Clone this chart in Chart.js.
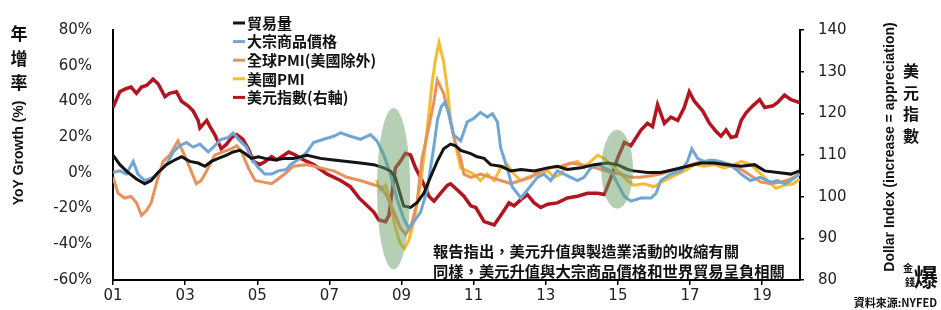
<!DOCTYPE html>
<html>
<head>
<meta charset="utf-8">
<script src="https://cdn.jsdelivr.net/npm/chart.js@4.4.1/dist/chart.umd.min.js"></script>
<style>
  html, body { margin: 0; padding: 0; background: #fff; }
</style>
</head>
<body>
<canvas id="chart" width="941" height="310"></canvas>
<script>
// x 軸刻度（年份）
const xTickYears = [2001, 2003, 2005, 2007, 2009, 2011, 2013, 2015, 2017, 2019];

const seriesNames = ['貿易量', '大宗商品價格', '全球PMI(美國除外)', '美國PMI', '美元指數(右軸)'];

// [年份, 年增率 %]
const tradeVolume = [
  [2001.0, 9.9], [2001.19, 4.6], [2001.42, 0.2], [2001.65, -3.4], [2001.88, -6.1], [2002.06, -4.3],
  [2002.25, 0.2], [2002.48, 4.6], [2002.71, 7.2], [2002.9, 9.0], [2003.13, 6.4], [2003.36, 5.5],
  [2003.55, 3.7], [2003.73, 6.4], [2003.92, 8.1], [2004.15, 9.9], [2004.33, 11.7], [2004.52, 12.6],
  [2004.66, 10.8], [2004.84, 8.1], [2005.03, 9.0], [2005.21, 8.1], [2005.49, 7.2], [2005.77, 8.1],
  [2006.0, 8.1], [2006.38, 9.9], [2006.75, 8.1], [2007.12, 7.2], [2007.49, 6.4], [2007.86, 5.5],
  [2008.23, 4.6], [2008.51, 2.8], [2008.69, 1.1], [2008.83, -2.5], [2008.93, -9.6], [2009.06, -18.5],
  [2009.25, -19.4], [2009.43, -16.7], [2009.62, -11.4], [2009.8, -2.5], [2009.99, 6.4], [2010.17, 13.5],
  [2010.36, 16.1], [2010.5, 15.2], [2010.64, 12.6], [2010.92, 10.8], [2011.1, 9.0], [2011.29, 8.1],
  [2011.47, 4.6], [2011.75, 3.7], [2012.03, 1.1], [2012.31, 1.9], [2012.68, 1.1], [2013.05, 2.8],
  [2013.32, 3.7], [2013.6, 1.9], [2013.97, 2.8], [2014.34, 4.6], [2014.71, 5.5], [2014.99, 4.6],
  [2015.27, 1.9], [2015.44, 1.1], [2015.82, 0.2], [2016.19, 0.2], [2016.56, 1.9], [2016.93, 3.7],
  [2017.3, 5.5], [2017.67, 5.5], [2018.04, 4.6], [2018.42, 3.7], [2018.79, 4.6], [2019.07, 1.1],
  [2019.43, 0.2], [2019.8, -0.7], [2020.04, 1.1]
];

const commodityPrices = [
  [2001.0, 0.2], [2001.19, 1.1], [2001.37, -0.7], [2001.56, 6.4], [2001.69, -0.7], [2001.88, -4.3],
  [2002.11, -2.5], [2002.3, 1.1], [2002.48, 4.6], [2002.67, 11.7], [2002.85, 15.2], [2003.04, 17.0],
  [2003.22, 14.4], [2003.41, 16.1], [2003.64, 11.7], [2003.82, 15.2], [2004.0, 18.8], [2004.19, 19.7],
  [2004.33, 22.4], [2004.52, 17.9], [2004.7, 14.4], [2004.84, 8.1], [2005.03, 2.8], [2005.21, -0.7],
  [2005.4, -0.7], [2005.58, 1.1], [2005.81, 1.9], [2005.92, 4.6], [2006.19, 8.1], [2006.38, 11.7],
  [2006.56, 17.0], [2006.84, 18.8], [2007.12, 20.5], [2007.31, 22.4], [2007.58, 20.5], [2007.86, 18.8],
  [2008.14, 21.4], [2008.32, 17.9], [2008.51, 9.9], [2008.69, -0.7], [2008.88, -14.9], [2009.06, -25.6],
  [2009.2, -30.9], [2009.34, -27.4], [2009.53, -22.0], [2009.71, -9.6], [2009.9, 15.2], [2010.0, 30.0],
  [2010.1, 37.0], [2010.2, 39.5], [2010.31, 33.9], [2010.44, 21.4], [2010.64, 17.9], [2010.82, 28.5],
  [2011.0, 30.5], [2011.19, 33.9], [2011.38, 31.2], [2011.52, 33.2], [2011.66, 28.5], [2011.75, 14.0],
  [2011.93, 2.8], [2012.07, -7.8], [2012.31, -14.1], [2012.49, -9.6], [2012.77, -2.5], [2012.95, -0.7],
  [2013.14, -4.3], [2013.32, 1.1], [2013.51, -0.7], [2013.69, -2.5], [2013.88, -4.3], [2014.06, -2.5],
  [2014.25, 2.8], [2014.44, 4.6], [2014.62, 2.8], [2014.81, 1.1], [2014.99, -6.1], [2015.18, -13.2],
  [2015.36, -15.8], [2015.64, -14.1], [2015.92, -14.1], [2016.06, -11.4], [2016.19, -4.3], [2016.47, -0.7],
  [2016.75, 1.1], [2016.93, 6.4], [2017.05, 13.5], [2017.21, 8.1], [2017.38, 6.4], [2017.61, 7.2],
  [2017.84, 6.4], [2018.12, 4.6], [2018.42, -0.7], [2018.67, -4.3], [2018.95, -2.5], [2019.23, -5.2],
  [2019.43, -4.3], [2019.62, -6.1], [2019.8, -4.3], [2020.04, -0.7]
];

const globalPmiExUs = [
  [2001.0, -2.5], [2001.14, -11.4], [2001.32, -14.1], [2001.5, -13.2], [2001.65, -16.7], [2001.79, -23.8],
  [2001.93, -21.1], [2002.06, -16.7], [2002.2, -6.1], [2002.39, 6.4], [2002.57, 9.9], [2002.8, 17.9],
  [2002.94, 11.7], [2003.13, 2.8], [2003.31, -6.1], [2003.45, -4.3], [2003.64, 2.8], [2003.82, 9.9],
  [2004.05, 11.7], [2004.29, 13.5], [2004.43, 15.2], [2004.57, 11.7], [2004.75, 2.8], [2004.94, -4.3],
  [2005.17, -5.2], [2005.4, -6.1], [2005.58, -3.4], [2005.81, 0.2], [2006.0, 3.7], [2006.38, 4.6],
  [2006.75, 2.8], [2007.12, 1.1], [2007.49, -2.5], [2007.86, -4.3], [2008.14, -6.1], [2008.42, -7.8],
  [2008.6, -13.2], [2008.83, -23.8], [2008.97, -30.9], [2009.11, -34.4], [2009.25, -30.9], [2009.43, -16.7],
  [2009.57, 8.1], [2009.76, 25.9], [2009.9, 40.1], [2009.99, 52.0], [2010.17, 44.5], [2010.36, 28.5],
  [2010.5, 16.1], [2010.64, 8.1], [2010.73, -0.7], [2010.92, -2.5], [2011.19, -0.7], [2011.47, -2.5],
  [2011.75, -4.3], [2012.03, -6.1], [2012.31, -4.3], [2012.58, -2.5], [2012.86, 1.1], [2013.14, 2.8],
  [2013.42, 3.7], [2013.69, 5.5], [2013.97, 4.6], [2014.25, 3.7], [2014.53, 1.9], [2014.81, 0.2],
  [2015.08, -0.7], [2015.36, -2.5], [2015.64, -2.5], [2015.92, -1.6], [2016.19, -0.7], [2016.47, 1.1],
  [2016.75, 2.8], [2017.03, 4.6], [2017.3, 6.4], [2017.58, 5.5], [2017.86, 4.6], [2018.14, 3.7],
  [2018.42, 1.9], [2018.69, -1.6], [2018.97, -5.2], [2019.25, -6.1], [2019.52, -5.2], [2019.8, -3.4],
  [2020.04, -0.7]
];

const usPmi = [
  [2008.3, -4.0], [2008.42, -9.6], [2008.56, -6.9], [2008.69, -16.7], [2008.83, -30.9], [2008.97, -39.8],
  [2009.08, -42.4], [2009.2, -38.0], [2009.34, -27.4], [2009.53, -6.1], [2009.71, 24.1], [2009.85, 50.7],
  [2009.94, 63.1], [2010.04, 72.9], [2010.17, 62.0], [2010.27, 47.2], [2010.36, 29.4], [2010.5, 15.2],
  [2010.64, 2.8], [2010.82, 1.1], [2011.0, -0.7], [2011.19, -4.3], [2011.38, -0.7], [2011.57, -4.3],
  [2011.75, 2.8], [2011.93, 4.6], [2012.12, -0.7], [2012.31, -4.3], [2012.49, -2.5], [2012.77, -0.7],
  [2013.05, 1.1], [2013.23, -2.5], [2013.42, -0.7], [2013.6, 4.6], [2013.88, 6.4], [2014.06, 2.8],
  [2014.25, 6.4], [2014.44, 9.9], [2014.62, 8.1], [2014.81, 4.6], [2014.99, 1.1], [2015.18, -2.5],
  [2015.27, -4.3], [2015.44, -6.9], [2015.72, -6.1], [2016.0, -7.8], [2016.29, -4.3], [2016.56, -1.6],
  [2016.84, 1.1], [2017.12, 4.6], [2017.4, 3.7], [2017.67, 4.6], [2017.95, 2.8], [2018.23, 4.6],
  [2018.42, 6.4], [2018.69, 4.6], [2018.88, 1.1], [2019.15, -4.3], [2019.38, -8.7], [2019.62, -6.9],
  [2019.87, -6.1], [2020.04, -3.4]
];

// [年份, 美元指數]（右軸）
const dollarIndex = [
  [2001.0, 121.4], [2001.19, 125.2], [2001.36, 125.9], [2001.5, 126.3], [2001.65, 124.8], [2001.79, 126.3],
  [2001.93, 126.7], [2002.11, 128.2], [2002.25, 127.1], [2002.44, 124.0], [2002.57, 124.8], [2002.76, 125.2],
  [2002.9, 122.9], [2003.08, 121.8], [2003.22, 120.6], [2003.36, 118.3], [2003.41, 116.5], [2003.6, 118.3],
  [2003.69, 116.8], [2003.82, 114.9], [2004.0, 111.5], [2004.15, 112.6], [2004.29, 114.2], [2004.43, 114.9],
  [2004.6, 113.8], [2004.75, 111.5], [2004.89, 108.5], [2005.07, 107.7], [2005.21, 108.4], [2005.4, 109.6],
  [2005.54, 108.8], [2005.75, 110.0], [2005.87, 110.7], [2006.06, 110.0], [2006.19, 109.2], [2006.56, 107.7],
  [2006.94, 105.4], [2007.31, 103.9], [2007.58, 102.4], [2007.82, 99.7], [2008.05, 97.8], [2008.23, 96.3],
  [2008.37, 94.4], [2008.56, 94.0], [2008.65, 95.5], [2008.83, 106.9], [2008.97, 108.5], [2009.11, 110.4],
  [2009.25, 110.0], [2009.39, 106.9], [2009.57, 103.9], [2009.76, 100.1], [2009.9, 98.9], [2010.08, 100.8],
  [2010.27, 102.7], [2010.36, 103.1], [2010.55, 101.6], [2010.73, 100.1], [2010.92, 97.8], [2011.06, 97.4],
  [2011.29, 94.0], [2011.57, 93.2], [2011.75, 95.5], [2011.98, 98.5], [2012.12, 97.8], [2012.31, 99.3],
  [2012.49, 100.5], [2012.68, 98.5], [2012.86, 97.4], [2013.05, 98.2], [2013.32, 98.5], [2013.6, 99.7],
  [2013.88, 100.1], [2014.16, 100.8], [2014.44, 100.8], [2014.62, 100.5], [2014.81, 104.6], [2014.99, 109.2],
  [2015.18, 113.0], [2015.36, 112.2], [2015.64, 116.0], [2015.82, 117.6], [2015.96, 116.8], [2016.1, 122.1],
  [2016.29, 117.6], [2016.47, 119.1], [2016.66, 118.3], [2016.84, 121.4], [2016.98, 125.2], [2017.12, 122.9],
  [2017.35, 120.6], [2017.54, 117.6], [2017.72, 115.7], [2017.86, 114.5], [2018.0, 116.0], [2018.14, 114.2],
  [2018.28, 114.5], [2018.42, 118.3], [2018.56, 120.2], [2018.74, 121.8], [2018.93, 123.3], [2019.07, 121.4],
  [2019.3, 121.8], [2019.43, 122.6], [2019.62, 124.4], [2019.8, 123.3], [2020.04, 122.6]
];

const noteLines = [
  '報告指出，美元升值與製造業活動的收縮有關',
  '同樣，美元升值與大宗商品價格和世界貿易呈負相關'
];

// 綠色橢圓標示（資料座標）
const highlights = [
  { year: 2008.78, value: -8.9, halfYears: 0.46, halfRange: 45.2 },
  { year: 2014.98, value: 2.0, halfYears: 0.44, halfRange: 22.1 }
];

const toPoints = arr => arr.map(([x, y]) => ({ x, y }));

const cjk = '"Noto Sans CJK TC", "Noto Sans CJK SC", sans-serif';

const decorations = {
  id: 'decorations',
  afterDatasetsDraw(chart) {
    const { ctx, scales: { x, y } } = chart;
    ctx.save();
    ctx.fillStyle = 'rgba(105,160,105,0.5)';
    highlights.forEach(h => {
      const cx = x.getPixelForValue(h.year);
      const cy = y.getPixelForValue(h.value);
      const rx = Math.abs(x.getPixelForValue(h.year + h.halfYears) - cx);
      const ry = Math.abs(y.getPixelForValue(h.value + h.halfRange) - cy);
      ctx.beginPath();
      ctx.ellipse(cx, cy, rx, ry, 0, 0, Math.PI * 2);
      ctx.fill();
    });
    ctx.restore();
  },
  afterDraw(chart) {
    const { ctx } = chart;
    ctx.save();
    ctx.fillStyle = '#111';
    ctx.textBaseline = 'middle';

    // 圖例
    ctx.font = 'bold 15px ' + cjk;
    ctx.textAlign = 'left';
    chart.data.datasets.forEach((ds, i) => {
      const ly = 23 + i * 18.6;
      ctx.strokeStyle = ds.borderColor;
      ctx.lineWidth = 3;
      ctx.beginPath();
      ctx.moveTo(233, ly);
      ctx.lineTo(245, ly);
      ctx.stroke();
      ctx.fillText(ds.label, 247, ly);
    });

    // 說明文字
    ctx.font = 'bold 15.3px ' + cjk;
    noteLines.forEach((t, i) => ctx.fillText(t, 433, 251 + i * 20));

    // 左軸標題
    ctx.textAlign = 'center';
    ctx.font = 'bold 17px ' + cjk;
    ['年', '增', '率'].forEach((c, i) => ctx.fillText(c, 19, 34 + i * 24.5));
    ctx.save();
    ctx.translate(19, 153);
    ctx.rotate(-Math.PI / 2);
    ctx.font = 'bold 14px "Liberation Sans", Arial, sans-serif';
    ctx.fillText('YoY Growth (%)', 0, 0);
    ctx.restore();

    // 右軸標題
    ctx.font = 'bold 16px ' + cjk;
    ['美', '元', '指', '數'].forEach((c, i) => ctx.fillText(c, 911, 71 + i * 21.6));
    ctx.save();
    ctx.translate(890, 147);
    ctx.rotate(-Math.PI / 2);
    ctx.font = 'bold 14px "Liberation Sans", Arial, sans-serif';
    ctx.fillText('Dollar Index (increase = appreciation)', 0, 0);
    ctx.restore();

    // 標誌與資料來源
    ctx.font = 'bold 10px ' + cjk;
    ctx.fillText('金', 908, 268);
    ctx.fillText('錢', 910, 282);
    ctx.font = 'bold 24px ' + cjk;
    ctx.fillText('爆', 926, 277);
    ctx.font = 'bold 11px ' + cjk;
    ctx.textAlign = 'right';
    ctx.fillText('資料來源:NYFED', 937, 303);
    ctx.restore();
  }
};

const lineDs = (label, data, color, axis, width) => ({
  label,
  data: toPoints(data),
  borderColor: color,
  backgroundColor: color,
  borderWidth: width,
  pointRadius: 0,
  tension: 0,
  fill: false,
  yAxisID: axis
});

const tickFont = { family: '"DejaVu Sans", sans-serif', size: 15 };

new Chart(document.getElementById('chart'), {
  type: 'line',
  data: {
    datasets: [
      lineDs(seriesNames[0], tradeVolume, '#141414', 'y', 3),
      lineDs(seriesNames[1], commodityPrices, '#6fa6d6', 'y', 3),
      lineDs(seriesNames[2], globalPmiExUs, '#e8925a', 'y', 3),
      lineDs(seriesNames[3], usPmi, '#f4bc2f', 'y', 3),
      lineDs(seriesNames[4], dollarIndex, '#b3141f', 'y1', 3.5)
    ]
  },
  options: {
    responsive: false,
    animation: false,
    layout: { padding: { top: 20, left: 0, right: 0, bottom: 0 } },
    plugins: { legend: { display: false }, tooltip: { enabled: false } },
    scales: {
      x: {
        type: 'linear',
        min: 2001,
        max: 2020.05,
        afterBuildTicks: s => { s.ticks = xTickYears.map(v => ({ value: v })); },
        afterFit: s => { s.height = 27; },
        grid: { display: true, drawOnChartArea: false, drawTicks: true, tickLength: 5, color: '#000', lineWidth: 1.5 },
        border: { display: true, color: '#000', width: 2 },
        ticks: {
          autoSkip: false,
          maxRotation: 0,
          padding: 2,
          color: '#222',
          font: tickFont,
          callback: v => String(v % 100).padStart(2, '0')
        }
      },
      y: {
        position: 'left',
        min: -60,
        max: 80,
        afterFit: s => { s.width = 113; },
        grid: { display: false, drawTicks: false },
        border: { display: true, color: '#000', width: 2 },
        ticks: { stepSize: 20, padding: 21, color: '#222', font: tickFont, callback: v => v + '%' }
      },
      y1: {
        position: 'right',
        min: 80,
        max: 140,
        afterFit: s => { s.width = 141; },
        grid: { display: true, drawOnChartArea: false, drawTicks: true, tickLength: 4, color: '#000', lineWidth: 1.5 },
        border: { display: true, color: '#000', width: 2 },
        ticks: { stepSize: 10, padding: 14, color: '#222', font: tickFont }
      }
    }
  },
  plugins: [decorations]
});
</script>
</body>
</html>
